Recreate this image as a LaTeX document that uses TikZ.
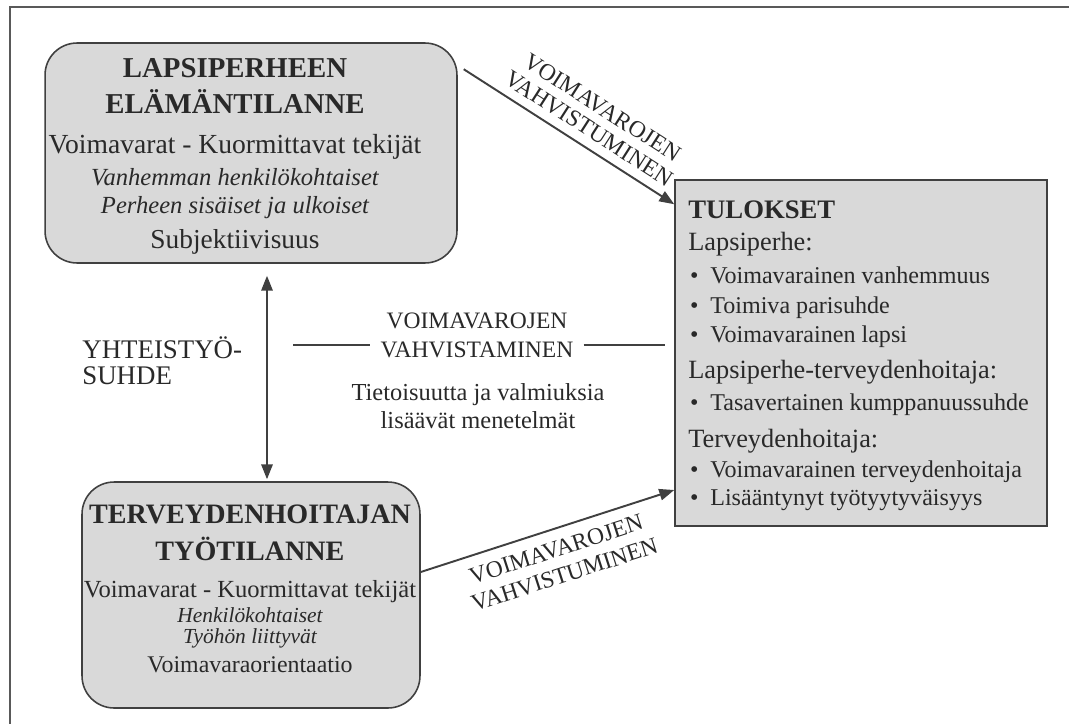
\documentclass[tikz,border=0pt]{standalone}
\usepackage{fontspec}
\setmainfont{Liberation Serif}
\usetikzlibrary{positioning,arrows.meta,calc}

\definecolor{boxgray}{gray}{0.85}
\definecolor{linegray}{gray}{0.25}
\definecolor{inkgray}{gray}{0.16}
\newcommand{\fsz}[1]{\fontsize{#1}{#1}\selectfont}

\begin{document}
\begin{tikzpicture}[>={Triangle[length=8.5pt,width=6.5pt]}, x=0.02cm, y=-0.02cm,
    roundbox/.style={draw=linegray, line width=0.9pt, fill=boxgray, rounded corners=0.64cm, inner sep=0pt},
    squarebox/.style={draw=linegray, line width=0.9pt, fill=boxgray, inner sep=0pt},
    ln/.style={anchor=base, inner sep=0pt, text=inkgray},
    lnw/.style={anchor=base west, inner sep=0pt, text=inkgray},
    link/.style={draw=linegray, line width=1.1pt},
    slabel/.style={sloped, inner sep=0pt, align=center, text=inkgray}]
  \useasboundingbox (0,0) rectangle (1069,724);
  % ---- frame ----
  \draw[gray!70!black, line width=1.2pt] (1069,7) -- (10,7) -- (10,724);
  % ---- boxes ----
  \node[roundbox, minimum width=8.24cm, minimum height=4.4cm] (elama) at (251,153) {};
  \node[roundbox, minimum width=6.76cm, minimum height=4.52cm] (tyo) at (251,595) {};
  \node[squarebox, minimum width=7.44cm, minimum height=6.92cm] (tulos) at (861,353) {};
  % ---- family situation ----
  \foreach \y/\t [count=\i] in {77/{\fsz{16.4}\bfseries LAPSIPERHEEN},
      113/{\fsz{16.4}\bfseries ELÄMÄNTILANNE},
      153/{\fsz{15.7}Voimavarat - Kuormittavat tekijät},
      185/{\fsz{14}\itshape Vanhemman henkilökohtaiset},
      213/{\fsz{14}\itshape Perheen sisäiset ja ulkoiset},
      248/{\fsz{15.6}Subjektiivisuus}}
    \node[ln] (el-\i) at (235,\y) {\t};
  % ---- nurse's work situation ----
  \foreach \y/\t [count=\i] in {523/{\fsz{16}\bfseries TERVEYDENHOITAJAN},
      560/{\fsz{16}\bfseries TYÖTILANNE},
      597/{\fsz{14}Voimavarat - Kuormittavat tekijät},
      622/{\fsz{12.2}\itshape Henkilökohtaiset},
      643/{\fsz{12.2}\itshape Työhön liittyvät},
      672/{\fsz{13.6}Voimavaraorientaatio}}
    \node[ln] (ty-\i) at (250,\y) {\t};
  % ---- results ----
  \foreach \y/\t [count=\i] in {218/{\fsz{15.2}\bfseries TULOKSET},
      250/{\fsz{15}Lapsiperhe:},
      283/{\fsz{13.7}\hspace{1pt}\makebox[11.5pt][l]{•}Voimavarainen vanhemmuus},
      313/{\fsz{13.7}\hspace{1pt}\makebox[11.5pt][l]{•}Toimiva parisuhde},
      342/{\fsz{13.7}\hspace{1pt}\makebox[11.5pt][l]{•}Voimavarainen lapsi},
      378/{\fsz{15}Lapsiperhe-terveydenhoitaja:},
      410/{\fsz{13.7}\hspace{1pt}\makebox[11.5pt][l]{•}Tasavertainen kumppanuussuhde},
      447/{\fsz{15}Terveydenhoitaja:},
      477/{\fsz{13.7}\hspace{1pt}\makebox[11.5pt][l]{•}Voimavarainen terveydenhoitaja},
      505/{\fsz{13.7}\hspace{1pt}\makebox[11.5pt][l]{•}Lisääntynyt työtyytyväisyys}}
    \node[lnw] (tu-\i) at (688,\y) {\t};
  % ---- middle texts ----
  \node[lnw, font=\fsz{15.3}] (yht-1) at (82,358) {YHTEISTYÖ-};
  \node[lnw, font=\fsz{15.3}] (yht-2) at (82,384) {SUHDE};
  \node[ln, font=\fsz{13.4}] (vahv-1) at (477,328) {VOIMAVAROJEN};
  \node[ln, font=\fsz{13.4}, inner xsep=5.7pt] (vahv-2) at (477,357) {VAHVISTAMINEN};
  \node[ln, font=\fsz{13.9}] (tiet-1) at (478,400) {Tietoisuutta ja valmiuksia};
  \node[ln, font=\fsz{13.9}] (tiet-2) at (478,428) {lisäävät menetelmät};
  \coordinate (dl) at (293,345);
  \coordinate (dr) at (665,345);
  \draw[linegray, line width=0.6pt] (dl) -- (dl -| vahv-2.west);
  \draw[linegray, line width=0.6pt] (vahv-2.east |- dr) -- (dr);
  % ---- connectors ----
  \draw[link, <->] ([shift={(16,12)}]elama.south) -- ([shift={(16,-2)}]tyo.north);
  \draw[link, ->] ([shift={(6,27)}]elama.north east) --
    node[slabel, above=5pt, pos=0.55, font=\fontsize{13.4}{14.2}\selectfont] (vv-1) {VOIMAVAROJEN\\VAHVISTUMINEN}
    ([shift={(0,25)}]tulos.north west);
  \draw[link, ->] ([shift={(0,-23)}]tyo.east) --
    node[slabel, below=6.3pt, pos=0.51, font=\fontsize{13.4}{15.3}\selectfont] (vv-2) {VOIMAVAROJEN\\VAHVISTUMINEN}
    ([shift={(0,137)}]tulos.west);
\end{tikzpicture}
\end{document}
